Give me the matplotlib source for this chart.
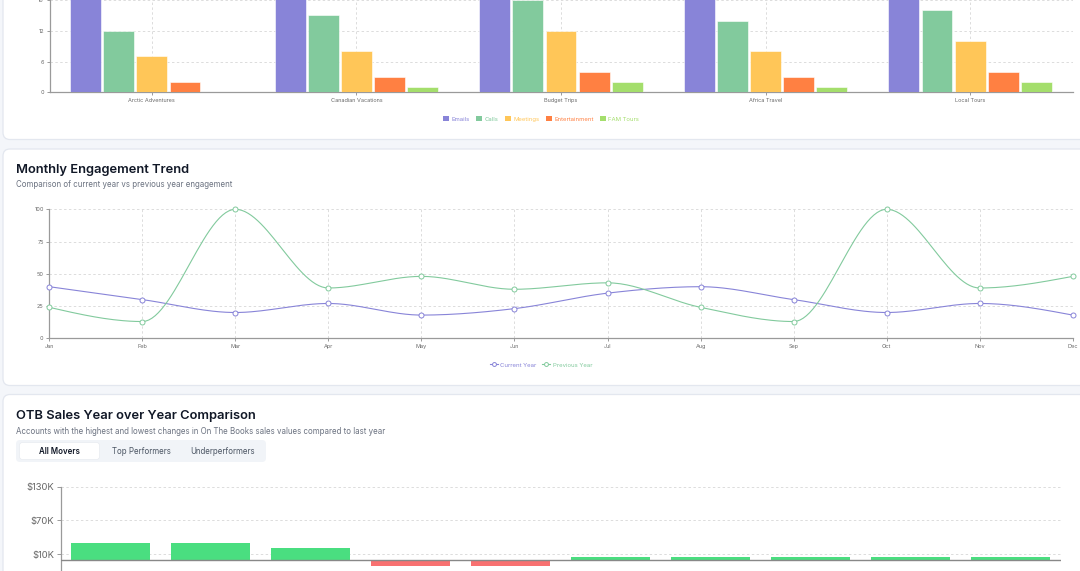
import numpy as np
import matplotlib
matplotlib.use("Agg")
import matplotlib.pyplot as plt
from matplotlib.patches import FancyBboxPatch, Patch
from matplotlib.lines import Line2D

plt.rcParams['font.family'] = ['Inter', 'DejaVu Sans']

# ---------------- data ----------------
cat_names = ["Arctic Adventures", "Canadian Vacations", "Budget Trips", "Africa Travel", "Local Tours"]
act_series = ["Emails", "Calls", "Meetings", "Entertainment", "FAM Tours"]
emails = [22, 21, 24, 20, 23]
calls = [12, 15, 18, 14, 16]
meetings = [7, 8, 12, 8, 10]
entertainment = [2, 3, 4, 3, 4]
fam_tours = [0, 1, 2, 1, 2]
act_colors = ["#8884d8", "#82ca9d", "#ffc658", "#ff8042", "#a4de6c"]
act_ticks = [0, 6, 12, 18, 24]

months = ["Jan", "Feb", "Mar", "Apr", "May", "Jun", "Jul", "Aug", "Sep", "Oct", "Nov", "Dec"]
current_year = [40, 30, 20, 27, 18, 23, 35, 40, 30, 20, 27, 18]
previous_year = [24, 13, 100, 39, 48, 38, 43, 24, 13, 100, 39, 48]
trend_ticks = [0, 25, 50, 75, 100]

otb_accounts = ["A1", "A2", "A3", "A4", "A5", "A6", "A7", "A8", "A9", "A10"]
otb_change_k = [30, 30, 20, -11, -11, 5, 5, 5, 5, 5]
otb_grid = [-50, 10, 70, 130]
otb_ticks = [10, 70, 130]
otb_tick_labels = ["$10K", "$70K", "$130K"]

W, H = 1080, 571
fig = plt.figure(figsize=(W / 100, H / 100), dpi=100)
fig.patch.set_facecolor("#f4f6fa")

bg = fig.add_axes([0, 0, 1, 1], zorder=0)
bg.set_xlim(0, W)
bg.set_ylim(H, 0)
bg.axis("off")


def card(y0, y1):
    p = FancyBboxPatch((3, y0), 1120, y1 - y0,
                       boxstyle="round,pad=0,rounding_size=7",
                       facecolor="white", edgecolor="#e3e7ef", linewidth=0.9)
    bg.add_patch(p)


card(-30, 139.5)
card(149, 385.5)
card(394.5, 620)


def ax_at(x0, y0, x1, y1):
    a = fig.add_axes([x0 / W, 1 - y1 / H, (x1 - x0) / W, (y1 - y0) / H], zorder=2)
    a.set_facecolor("none")
    return a


AXC = "#9a9a9a"
TICKC = "#6b6b6b"
GRIDC = "#dcdcdc"


def style(a, fs):
    for s in ["top", "right"]:
        a.spines[s].set_visible(False)
    for s in ["left", "bottom"]:
        a.spines[s].set_color(AXC)
        a.spines[s].set_linewidth(0.9)
    a.tick_params(colors=AXC, labelcolor=TICKC, labelsize=fs, length=2.5, width=0.7, pad=1.5)


# ---------------- chart 1: grouped bars ----------------
ax1 = ax_at(49.5, -30.6, 1072.5, 92.3)
style(ax1, 4.0)
ax1.set_xlim(0, 5)
ax1.set_ylim(0, 24)
vals = [emails, calls, meetings, entertainment, fam_tours]
xc = np.arange(5) + 0.5
slot = 0.162
for i, (v, c) in enumerate(zip(vals, act_colors)):
    pos = xc - 2.5 * slot + slot * (i + 0.5)
    ax1.bar(pos, v, width=slot * 0.93, color=c, edgecolor="white", linewidth=0.4, zorder=3)
ax1.set_xticks(xc)
ax1.set_xticklabels(cat_names)
ax1.set_yticks(act_ticks)
for y in act_ticks[1:]:
    ax1.axhline(y, color=GRIDC, lw=0.7, ls=(0, (2.5, 2.5)), zorder=1)
for x in list(xc) + [5]:
    ax1.axvline(x, color=GRIDC, lw=0.7, ls=(0, (2.5, 2.5)), zorder=1)

h1 = [Patch(facecolor=c, edgecolor="none") for c in act_colors]
fig.legend(h1, act_series, loc="center", bbox_to_anchor=(541 / W, 1 - 119 / H),
           ncol=5, frameon=False, fontsize=4.3, handlelength=1.0, handleheight=1.0,
           handletextpad=0.4, columnspacing=1.1, labelcolor=act_colors)

# ---------------- chart 2: monotone lines ----------------
bg.text(16, 170, "Monthly Engagement Trend", fontsize=9.3, fontweight="semibold",
        color="#111827", va="center", ha="left")
bg.text(16, 184.5, "Comparison of current year vs previous year engagement", fontsize=5.7,
        color="#6b7280", va="center", ha="left")


def monotone_x(x, y, n=30):
    x = np.asarray(x, float)
    y = np.asarray(y, float)
    h = np.diff(x)
    s = np.diff(y) / h
    m = len(x)
    t = np.zeros(m)
    for i in range(1, m - 1):
        s0, s1, h0, h1 = s[i - 1], s[i], h[i - 1], h[i]
        p = (s0 * h1 + s1 * h0) / (h0 + h1)
        t[i] = (np.sign(s0) + np.sign(s1)) * min(abs(s0), abs(s1), 0.5 * abs(p))
    t[0] = (3 * s[0] - t[1]) / 2
    t[-1] = (3 * s[-1] - t[-2]) / 2
    xs, ys = [], []
    for i in range(m - 1):
        u = np.linspace(0, 1, n)
        hh = h[i]
        h00 = 2 * u**3 - 3 * u**2 + 1
        h10 = u**3 - 2 * u**2 + u
        h01 = -2 * u**3 + 3 * u**2
        h11 = u**3 - u**2
        xs.append(x[i] + u * hh)
        ys.append(h00 * y[i] + h10 * hh * t[i] + h01 * y[i + 1] + h11 * hh * t[i + 1])
    return np.concatenate(xs), np.concatenate(ys)


ax2 = ax_at(49.3, 209.3, 1072.7, 338.3)
style(ax2, 4.0)
ax2.set_xlim(0, 11)
ax2.set_ylim(0, 100)
xm = np.arange(len(months))
for y in trend_ticks[1:]:
    ax2.axhline(y, color=GRIDC, lw=0.7, ls=(0, (2.5, 2.5)), zorder=1)
for x in xm[1:]:
    ax2.axvline(x, color=GRIDC, lw=0.7, ls=(0, (2.5, 2.5)), zorder=1)
line_cols = ["#8884d8", "#82ca9d"]
for ser, c in zip([current_year, previous_year], line_cols):
    sx, sy = monotone_x(xm, ser)
    ax2.plot(sx, sy, color=c, lw=0.8, zorder=3, clip_on=False)
    ax2.plot(xm, ser, ls="none", marker="o", ms=3.6, mfc="white", mec=c, mew=0.7,
             zorder=4, clip_on=False)
ax2.set_xticks(xm)
ax2.set_xticklabels(months)
ax2.set_yticks(trend_ticks)

h2 = [Line2D([0], [0], color=c, lw=0.8, marker="o", ms=2.8, mfc="white", mec=c, mew=0.7)
      for c in line_cols]
fig.legend(h2, ["Current Year", "Previous Year"], loc="center",
           bbox_to_anchor=(541 / W, 1 - 365 / H), ncol=2, frameon=False, fontsize=4.3,
           handlelength=1.4, handletextpad=0.4, columnspacing=0.9, labelcolor=line_cols)

# ---------------- chart 3: OTB bars ----------------
bg.text(16, 415.5, "OTB Sales Year over Year Comparison", fontsize=9.3, fontweight="semibold",
        color="#111827", va="center", ha="left")
bg.text(16, 431, "Accounts with the highest and lowest changes in On The Books sales values compared to last year",
        fontsize=5.7, color="#6b7280", va="center", ha="left")
bg.add_patch(FancyBboxPatch((16, 440), 250, 22, boxstyle="round,pad=0,rounding_size=4",
                            facecolor="#f1f4f8", edgecolor="none"))
bg.add_patch(FancyBboxPatch((19.5, 442.5), 80, 17, boxstyle="round,pad=0,rounding_size=3",
                            facecolor="white", edgecolor="#e8ebf0", linewidth=0.5))
bg.text(59.5, 451, "All Movers", fontsize=5.7, fontweight="semibold", color="#111827",
        ha="center", va="center")
bg.text(141, 451, "Top Performers", fontsize=5.7, color="#4b5563", ha="center", va="center")
bg.text(223, 451, "Underperformers", fontsize=5.7, color="#4b5563", ha="center", va="center")

ax3 = ax_at(60.8, 486.7, 1060.5, 587.7)
style(ax3, 6.8)
ax3.spines["bottom"].set_visible(False)
ax3.set_xlim(0, 10)
ax3.set_ylim(-50, 130)
xo = np.arange(len(otb_accounts)) + 0.5
bar_cols = ["#4ade80" if v >= 0 else "#f87171" for v in otb_change_k]
ax3.bar(xo, otb_change_k, width=0.79, color=bar_cols, zorder=3)
for y in otb_grid:
    ax3.axhline(y, color=GRIDC, lw=0.7, ls=(0, (2.5, 2.5)), zorder=1)
ax3.axhline(0, color="#888888", lw=1.0, zorder=4)
ax3.set_xticks([])
ax3.set_yticks(otb_ticks)
ax3.set_yticklabels(otb_tick_labels)
ax3.tick_params(axis="y", length=3, pad=1.5, labelcolor="#666666")

fig.savefig("out.png", dpi=100, facecolor=fig.get_facecolor())
